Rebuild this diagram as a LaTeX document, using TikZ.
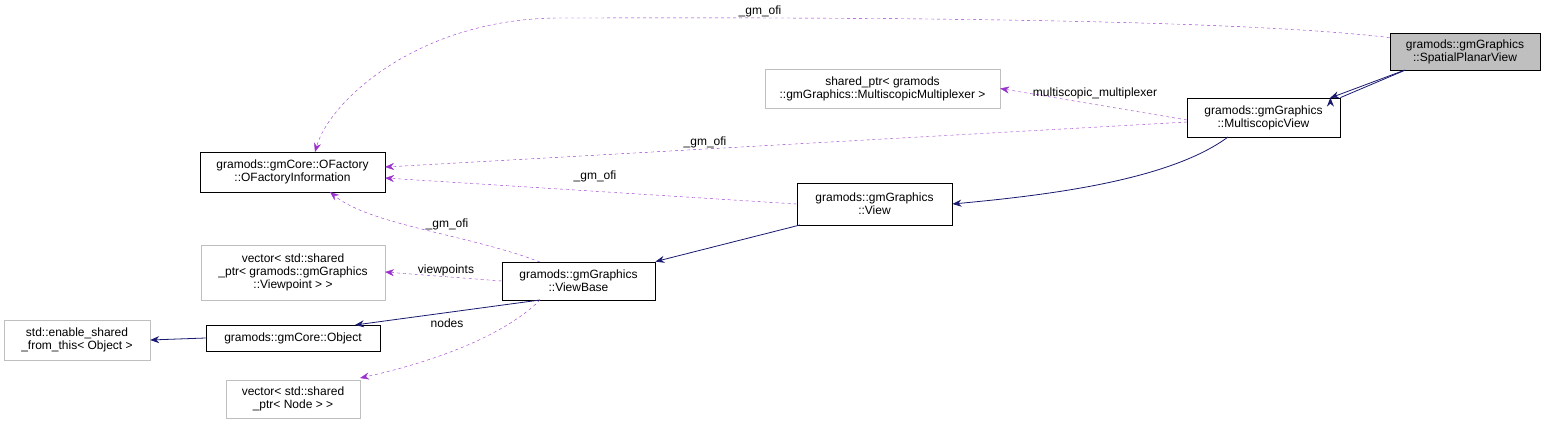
\documentclass[tikz,border=0pt]{standalone}
\usepackage{fontspec}
\setmainfont{Liberation Sans}
\usetikzlibrary{arrows.meta}
\definecolor{navy}{HTML}{191970}
\definecolor{orchid}{HTML}{9A32CD}
\definecolor{boxgray}{HTML}{BFBFBF}
\tikzset{cls/.style={draw,thick,align=center,inner sep=2pt,font=\fontsize{12}{13}\selectfont},
         ext/.style={cls,draw=boxgray,thin},
         inh/.style={navy,thick,-{Stealth[length=9pt,width=7pt]}},
         use/.style={orchid,dashed,-{Stealth[length=9pt,width=7pt]}},
         lbl/.style={font=\fontsize{12}{13}\selectfont,inner sep=1pt},
            }

\begin{document}
\begin{tikzpicture}[x=1pt,y=-1pt]
    \useasboundingbox (0,0) rectangle (1547,425);
    \node[cls,fill=boxgray,minimum width=150,minimum height=37] (spv) at (1465,51.5) {gramods::gmGraphics\\::SpatialPlanarView};
    \node[cls,minimum width=153,minimum height=39] (msv) at (1263.5,117.5) {gramods::gmGraphics\\::MultiscopicView};
    \node[ext,minimum width=235,minimum height=39] (mux) at (882.5,88.5) {shared\_ptr\textless{} gramods\\::gmGraphics::MultiscopicMultiplexer \textgreater};
    \node[cls,minimum width=185,minimum height=40] (ofi) at (292.5,172) {gramods::gmCore::OFactory\\::OFactoryInformation};
    \node[cls,minimum width=155,minimum height=42] (view) at (874.5,204) {gramods::gmGraphics\\::View};
    \node[ext,minimum width=184,minimum height=55] (vpt) at (293,272.5) {vector\textless{} std::shared\\\_ptr\textless{} gramods::gmGraphics\\::Viewpoint \textgreater{} \textgreater};
    \node[cls,minimum width=153,minimum height=38] (vb) at (578.5,281) {gramods::gmGraphics\\::ViewBase};
    \node[ext,minimum width=146,minimum height=40] (esft) at (77,340) {std::enable\_shared\\\_from\_this\textless{} Object \textgreater};
    \node[cls,minimum width=174,minimum height=26] (obj) at (293,338) {gramods::gmCore::Object};
    \node[ext,minimum width=134,minimum height=38] (nod) at (293,399) {vector\textless{} std::shared\\\_ptr\textless{} Node \textgreater{} \textgreater};

    \draw[inh] (spv.south west) ++(15,0) -- (msv.north east |- msv.north) ++(-10,0);
    \draw[inh] (1405,70) -- (1330,98);
    \draw[inh] (1228,137) .. controls (1170,180) and (1050,195) .. (view.east);
    \draw[inh] (800,225) -- (vb.north east);
    \draw[inh] (540,300) -- (355,325);
    \draw[inh] (obj.west) -- (esft.east);

    \draw[use] (spv.north west) ++(0,5) .. controls (1200,15) and (700,18) .. (560,18)
        .. controls (420,18) and (330,100) .. (315,152);
    \node[lbl] (l1) at (760,11) {\_gm\_ofi};
    \draw[use] (1187,120) -- (mux.east);
    \node[lbl] (l2) at (1095,93) {multiscopic\_multiplexer};
    \draw[use] (1187,122) -- (385,167);
    \node[lbl] (l3) at (705,142) {\_gm\_ofi};
    \draw[use] (view.west) -- (385,178);
    \node[lbl] (l4) at (595,176) {\_gm\_ofi};
    \draw[use] (540,262) .. controls (470,235) and (370,225) .. (330,192);
    \node[lbl] (l5) at (447,224) {\_gm\_ofi};
    \draw[use] (vb.west) -- (385,272);
    \node[lbl] (l6) at (446,270) {viewpoints};
    \draw[use] (540,300) .. controls (500,340) and (420,365) .. (360,378);
    \node[lbl] (l7) at (447,323) {nodes};
\end{tikzpicture}
\end{document}
